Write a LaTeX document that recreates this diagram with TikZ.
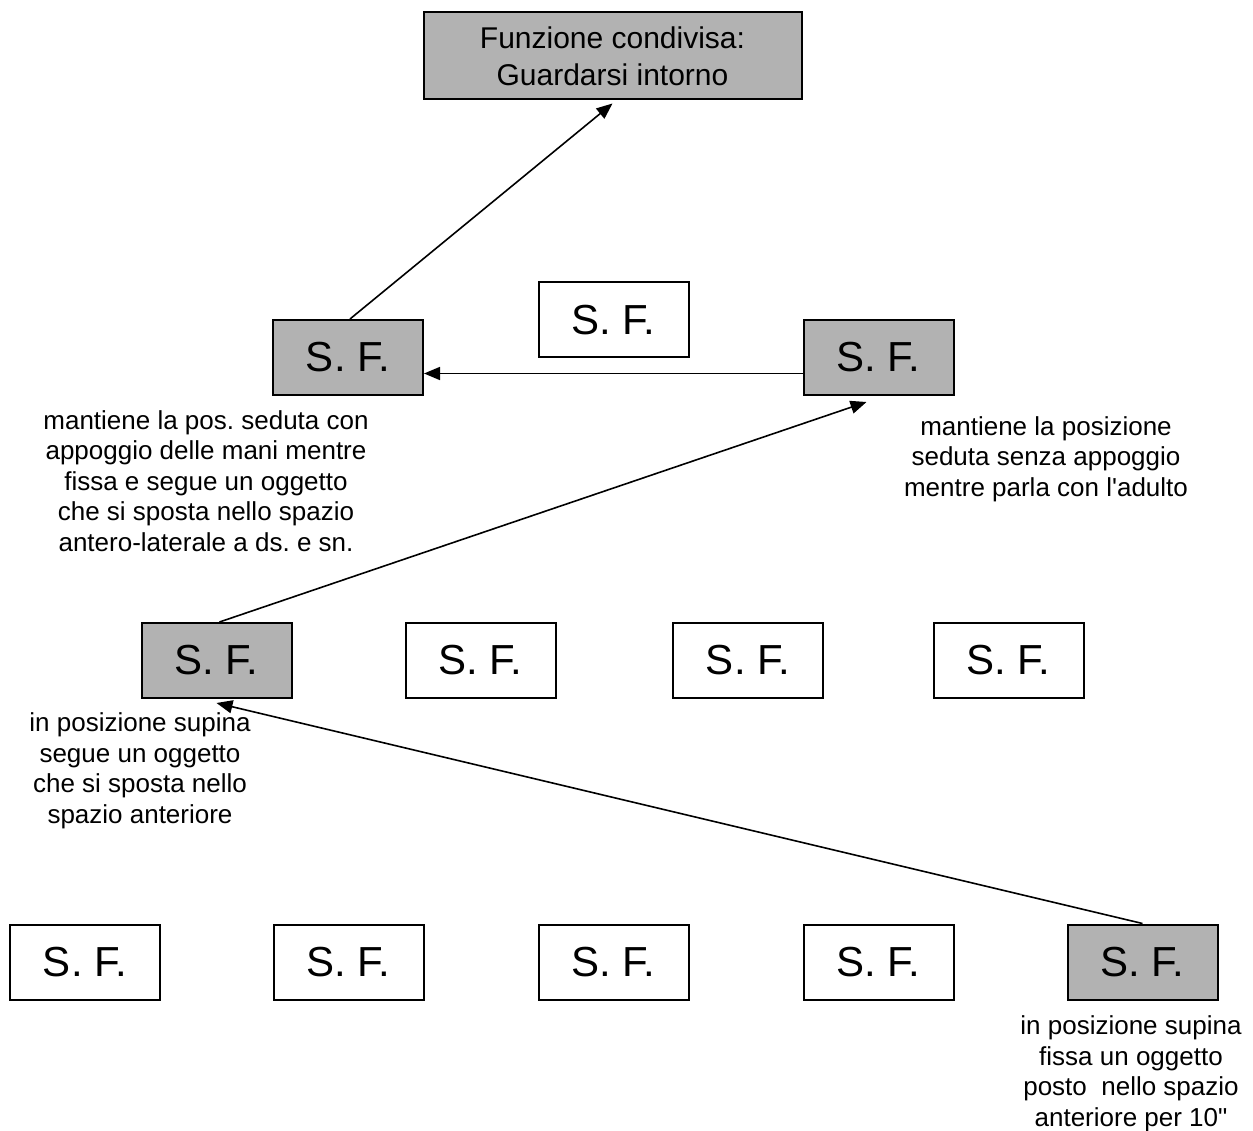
\documentclass[tikz,border=0pt]{standalone}
\usepackage{fontspec}
\setmainfont{Liberation Sans}[Ligatures=TeXOff]
\usetikzlibrary{arrows.meta}
\definecolor{boxgray}{RGB}{178,178,178}
\frenchspacing
\begin{document}
\begin{tikzpicture}[x=1pt,y=-1pt,
  box/.style={draw, line width=2pt, minimum width=150pt, minimum height=75pt, inner sep=0pt, font=\fontsize{42}{48}\selectfont},
  gbox/.style={box, fill=boxgray},
  lbl/.style={align=center, inner sep=0pt, font=\fontsize{26}{30.5}\selectfont},
  arr/.style={line width=1.6pt, -{Triangle[length=16pt,width=13pt]}}]
\useasboundingbox (0,0) rectangle (1253,1131);
% top
\node[draw, line width=2pt, fill=boxgray, minimum width=378pt, minimum height=87pt, inner sep=0pt, align=center, font=\fontsize{30}{37}\selectfont] (top) at (612.5,56) {Funzione condivisa:\\Guardarsi intorno};
% row 2
\node[gbox] (l2) at (348,357.5) {S. F.};
\node[box]  (m2) at (613.5,320) {S. F.};
\node[gbox] (r2) at (878.5,357.5) {S. F.};
% row 3
\node[gbox] (a3) at (216.5,660.5) {S. F.};
\node[box]  (b3) at (480.5,660.5) {S. F.};
\node[box]  (c3) at (748,660.5) {S. F.};
\node[box]  (d3) at (1008.5,660.5) {S. F.};
% row 4
\node[box]  (a4) at (85,962) {S. F.};
\node[box]  (b4) at (348.5,962) {S. F.};
\node[box]  (c4) at (613.5,962) {S. F.};
\node[box]  (d4) at (878.5,962) {S. F.};
\node[gbox] (e4) at (1142.5,962) {S. F.};
% labels
\node[lbl] (tl2) at (206,481) {mantiene la pos. seduta con\\appoggio delle mani mentre\\fissa e segue un oggetto\\che si sposta nello spazio\\antero-laterale a ds. e sn.};
\node[lbl] (tr2) at (1046,459) {mantiene la posizione\\seduta senza appoggio\\mentre parla con l'adulto};
\node[lbl] (ta3) at (140,771) {in posizione supina\\segue un oggetto\\che si sposta nello\\spazio anteriore};
\node[lbl] (te4) at (1131,1074) {in posizione supina\\fissa un oggetto\\posto \ nello spazio\\anteriore per 10"};
% arrows
\draw[arr] ([xshift=2pt]l2.north) -- ([yshift=-3pt]top.south);
\draw[arr] ([yshift=-16pt]r2.west) -- ([yshift=-16pt]l2.east);
\draw[arr] ([xshift=3pt]a3.north) -- ([xshift=-12pt,yshift=-6pt]r2.south);
\draw[arr] (e4.north) -- ([yshift=-4pt]a3.south);
\end{tikzpicture}
\end{document}
